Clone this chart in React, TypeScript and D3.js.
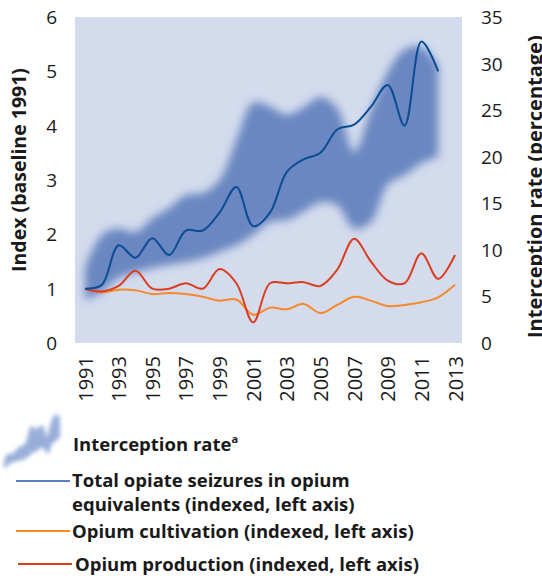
import React from "react";
import * as d3 from "d3";

const years = d3.range(1991, 2014);
const seizures = [1.0, 1.07, 1.8, 1.57, 1.93, 1.62, 2.07, 2.07, 2.4, 2.87, 2.15, 2.4, 3.15, 3.38, 3.5, 3.93, 4.02, 4.35, 4.75, 4.0, 5.55, 5.0];
const cultivation = [1.0, 0.93, 0.98, 0.97, 0.9, 0.92, 0.9, 0.85, 0.78, 0.8, 0.52, 0.65, 0.62, 0.72, 0.55, 0.7, 0.85, 0.78, 0.68, 0.7, 0.75, 0.84, 1.07];
const production = [1.0, 0.95, 1.05, 1.33, 1.0, 1.0, 1.1, 1.0, 1.36, 1.1, 0.38, 1.1, 1.1, 1.12, 1.05, 1.35, 1.92, 1.5, 1.15, 1.1, 1.65, 1.18, 1.62];
const interceptionLow = [4.6, 5.5, 7.0, 7.6, 8.05, 8.4, 8.7, 9.1, 9.8, 10.5, 11.6, 13.0, 13.2, 14.1, 15.1, 14.8, 12.3, 13.0, 17.0, 18.0, 19.3, 20.0];
const interceptionHigh = [8.05, 11.6, 12.3, 11.9, 13.4, 14.5, 15.9, 16.1, 17.5, 21.8, 25.8, 25.4, 24.5, 25.3, 26.4, 25.2, 20.5, 25.0, 29.1, 31.5, 31.8, 29.8];
const leftTicks = [0, 1, 2, 3, 4, 5, 6];
const rightTicks = [0, 5, 10, 15, 20, 25, 30, 35];
const xTickYears = d3.range(1991, 2014, 2);

const FONT = "'Open Sans', 'Noto Sans', sans-serif";

export default function App() {
  const x = d3.scaleLinear().domain([1991, 2013]).range([85, 455]);
  const yL = d3.scaleLinear().domain([0, 6]).range([343, 17]);
  const yR = d3.scaleLinear().domain([0, 35]).range([343, 17]);

  const band = interceptionLow.map((lo, i) => ({ year: years[i], lo, hi: interceptionHigh[i] }));
  const bandArea = d3
    .area<{ year: number; lo: number; hi: number }>()
    .x((d) => x(d.year))
    .y0((d) => yR(d.lo))
    .y1((d) => yR(d.hi))
    .curve(d3.curveCatmullRom);

  // legend mini band
  const lx = d3.scaleLinear().domain([1991, 2012]).range([4, 60]);
  const ly = d3.scaleLinear().domain([0, 35]).range([478, 408]);
  const miniArea = d3
    .area<{ year: number; lo: number; hi: number }>()
    .x((d) => lx(d.year))
    .y0((d) => ly(d.lo))
    .y1((d) => ly(d.hi))
    .curve(d3.curveCatmullRom);

  const line = (vals: number[]) =>
    d3
      .line<number>()
      .x((_, i) => x(years[i]))
      .y((v) => yL(v))
      .curve(d3.curveCatmullRom)(vals) as string;

  return (
    <div style={{ position: "absolute", left: 0, top: 0 }}>
      <svg width={542} height={579} style={{ display: "block" }}>
        <defs>
          <filter id="blur" x="-20%" y="-20%" width="140%" height="140%">
            <feGaussianBlur stdDeviation={4} />
          </filter>
          <filter id="blur2" x="-30%" y="-30%" width="160%" height="160%">
            <feGaussianBlur stdDeviation={2} />
          </filter>
          <clipPath id="plotclip">
            <rect x={75} y={17} width={387} height={326} />
          </clipPath>
        </defs>
        <rect x={75} y={17} width={387} height={326} fill="#d3dbed" />
        <g clipPath="url(#plotclip)">
          <path d={bandArea(band) as string} fill="#6a87c1" filter="url(#blur)" />
        </g>
        <path d={line(cultivation)} fill="none" stroke="#f7892a" strokeWidth={2} />
        <path d={line(production)} fill="none" stroke="#dc3d1f" strokeWidth={2} />
        <path d={line(seizures)} fill="none" stroke="#0b4d94" strokeWidth={2} />

        {leftTicks.map((t) => (
          <text key={"l" + t} x={57} y={yL(t)} textAnchor="end" dominantBaseline="central" fontFamily={FONT} fontSize={19} fill="#1a1a1a">
            {t}
          </text>
        ))}
        {rightTicks.map((t) => (
          <text key={"r" + t} x={481} y={yR(t)} textAnchor="start" dominantBaseline="central" fontFamily={FONT} fontSize={19} fill="#1a1a1a">
            {t}
          </text>
        ))}
        {xTickYears.map((yr) => (
          <text key={"x" + yr} transform={`translate(${x(yr)},356) rotate(-90)`} textAnchor="end" dominantBaseline="central" fontFamily={FONT} fontSize={20} fill="#1a1a1a">
            {yr}
          </text>
        ))}
        <text transform="translate(26,170) rotate(-90)" textAnchor="middle" fontFamily={FONT} fontSize={19.5} fontWeight="bold" fill="#1a1a1a">
          Index (baseline 1991)
        </text>
        <text transform="translate(542,338) rotate(-90)" textAnchor="start" fontFamily={FONT} fontSize={20} fontWeight="bold" fill="#1a1a1a">
          Interception rate (percentage)
        </text>

        {/* legend */}
        <path d={miniArea(band) as string} fill="#7f9bd0" opacity={0.8} filter="url(#blur2)" />
        <text x={73} y={451} fontFamily={FONT} fontSize={18.5} fontWeight="bold" fill="#1a1a1a">
          Interception rate
          <tspan fontSize={11} dy={-8}>a</tspan>
        </text>
        <line x1={16} x2={70} y1={481} y2={481} stroke="#5b7fc0" strokeWidth={2} />
        <text x={72} y={487} fontFamily={FONT} fontSize={18.5} fontWeight="bold" fill="#1a1a1a">
          Total opiate seizures in opium
        </text>
        <text x={72} y={511} fontFamily={FONT} fontSize={18.5} fontWeight="bold" fill="#1a1a1a">
          equivalents (indexed, left axis)
        </text>
        <line x1={16} x2={70} y1={531} y2={531} stroke="#f7892a" strokeWidth={2} />
        <text x={72} y={538} fontFamily={FONT} fontSize={18.5} fontWeight="bold" fill="#1a1a1a">
          Opium cultivation (indexed, left axis)
        </text>
        <line x1={18} x2={72} y1={564} y2={564} stroke="#dc3d1f" strokeWidth={2} />
        <text x={75} y={571} fontFamily={FONT} fontSize={18.5} fontWeight="bold" fill="#1a1a1a">
          Opium production (indexed, left axis)
        </text>
      </svg>
    </div>
  );
}
